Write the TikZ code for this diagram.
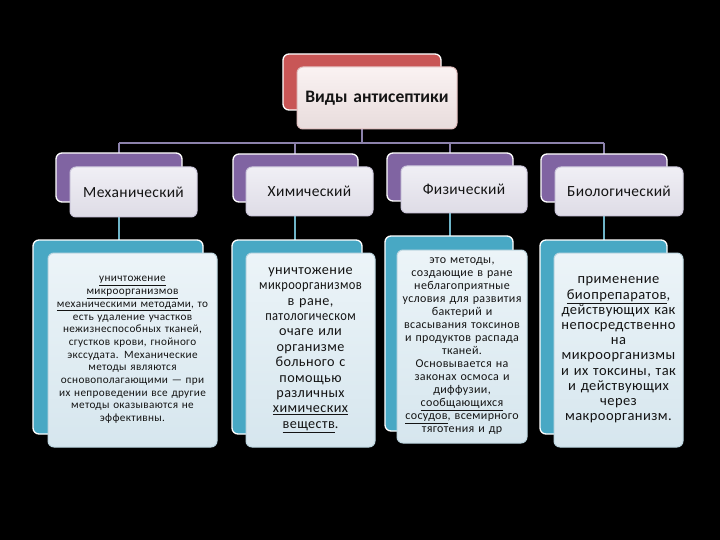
\documentclass[tikz,border=0pt]{standalone}
\usepackage{fontspec}
\setmainfont{Carlito}
\usetikzlibrary{shadings,backgrounds}
\definecolor{redback}{RGB}{200,86,86}
\definecolor{purpback}{RGB}{128,100,162}
\definecolor{tealback}{RGB}{72,168,196}
\definecolor{barcol}{RGB}{140,130,172}
\definecolor{lowcol}{RGB}{110,180,200}
\definecolor{txt}{RGB}{20,20,20}
\tikzset{
  backbox/.style={draw=white, line width=1.3pt, rounded corners=6pt, inner sep=0pt, outer sep=0pt, anchor=north west},
  frontbox/.style={rounded corners=6pt, inner sep=0pt, outer sep=0pt, anchor=north west, align=center, text=txt, line width=1pt},
  topfront/.style={frontbox, draw={rgb,255:red,225;green,190;blue,190}, top color={rgb,255:red,250;green,242;blue,242}, bottom color={rgb,255:red,232;green,220;blue,220}},
  midfront/.style={frontbox, draw={rgb,255:red,205;green,200;blue,220}, top color={rgb,255:red,240;green,239;blue,245}, bottom color={rgb,255:red,222;green,220;blue,230}},
  lowfront/.style={frontbox, draw={rgb,255:red,190;green,215;blue,225}, top color={rgb,255:red,236;green,244;blue,248}, bottom color={rgb,255:red,214;green,230;blue,238}},
  midfont/.style={font=\fontsize{15.5}{17}\selectfont\addfontfeature{LetterSpace=2}},
  barline/.style={draw=barcol, line width=1.3pt},
  lowline/.style={draw=lowcol, line width=1.3pt}
}
\newcommand{\squeezeline}[1]{\scalebox{0.88}[1]{#1}}
\begin{document}
\begin{tikzpicture}[x=1pt,y=-1pt]
\useasboundingbox (0,0) rectangle (720,540);

% level 1
\node[backbox, fill=redback, minimum width=158pt, minimum height=56pt] (tb) at (283,54) {};
\node[topfront, text width=160pt, minimum height=62pt, font=\fontsize{17.5}{20}\selectfont\bfseries] (t) at (297,67) {\raisebox{-3pt}{Виды антисептики}};

% level 2
\node[backbox, fill=purpback, minimum width=126pt, minimum height=49pt] (m1b) at (56,153) {};
\node[midfront, midfont, text width=127pt, minimum height=50pt] (m1) at (70,167) {Механический};
\node[backbox, fill=purpback, minimum width=125pt, minimum height=48pt] (m2b) at (233,154) {};
\node[midfront, midfont, text width=127pt, minimum height=49pt] (m2) at (246,167) {Химический};
\node[backbox, fill=purpback, minimum width=126pt, minimum height=48pt] (m3b) at (387,153) {};
\node[midfront, midfont, text width=126pt, minimum height=47pt] (m3) at (401,166) {Физический};
\node[backbox, fill=purpback, minimum width=126pt, minimum height=48pt] (m4b) at (541,154) {};
\node[midfront, midfont, text width=128pt, minimum height=49pt] (m4) at (555,167) {Биологический};

% level 3
\node[backbox, fill=tealback, minimum width=170pt, minimum height=194pt] (c1b) at (33,240) {};
\node[lowfront, text width=169pt, minimum height=194pt, font=\fontsize{11.2}{12.7}\selectfont\addfontfeature{LetterSpace=3}] (c1) at (48,253) {\underline{уничтожение}\\ \underline{микроорганизмов}\\ \underline{механическими методами}, то\\ есть удаление участков\\ нежизнеспособных тканей,\\ сгустков крови, гнойного\\ экссудата. Механические\\ методы являются\\ основополагающими — при\\ их непроведении все другие\\ методы оказываются не\\ эффективны.};
\node[backbox, fill=tealback, minimum width=130pt, minimum height=194pt] (c2b) at (232,240) {};
\node[lowfront, text width=129pt, minimum height=194pt, font=\fontsize{14.2}{15.4}\selectfont\addfontfeature{LetterSpace=3}] (c2) at (246,253) {уничтожение\\ \squeezeline{микроорганизмов}\\ в ране,\\ \squeezeline{патологическом}\\ очаге или\\ организме\\ больного с\\ помощью\\ различных\\ \underline{химических}\\ \underline{веществ}.};
\node[backbox, fill=tealback, minimum width=128pt, minimum height=195pt] (c3b) at (385,236) {};
\node[lowfront, text width=130pt, minimum height=193pt, font=\fontsize{12}{13}\selectfont\addfontfeature{LetterSpace=3}] (c3) at (397,250) {это методы,\\ создающие в ране\\ неблагоприятные\\ условия для развития\\ бактерий и\\ всасывания токсинов\\ и продуктов распада\\ тканей.\\ Основывается на\\ законах осмоса и\\ диффузии,\\ \underline{сообщающихся}\\ \underline{сосудов}, всемирного\\ тяготения и др};
\node[backbox, fill=tealback, minimum width=127pt, minimum height=194pt] (c4b) at (540,240) {};
\node[lowfront, text width=129pt, minimum height=194pt, font=\fontsize{14.5}{15.2}\selectfont\addfontfeature{LetterSpace=3}] (c4) at (554,253) {применение\\ \underline{биопрепаратов},\\ действующих как\\ непосредственно\\ на\\ микроорганизмы\\ и их токсины, так\\ и действующих\\ через\\ макроорганизм.};

% connectors
\coordinate (j0) at (362,143);
\coordinate (j1) at (119,143);
\coordinate (j2) at (295,143);
\coordinate (j3) at (450,143);
\coordinate (j4) at (604,143);
\begin{scope}[on background layer]
\fill[black] (0,0) rectangle (720,540);
\draw[barline] (j0 |- t.south) -- (j0);
\draw[barline] (j1) -- (j4);
\draw[barline] (j1) -- (j1 |- m1.south);
\draw[barline] (j2) -- (j2 |- m2.south);
\draw[barline] (j3) -- (j3 |- m3.south);
\draw[barline] (j4) -- (j4 |- m4.south);
\draw[lowline] (j1 |- m1.south) -- (j1 |- c1b.north);
\draw[lowline] (j2 |- m2.south) -- (j2 |- c2b.north);
\draw[lowline] (j3 |- m3.south) -- (j3 |- c3b.north);
\draw[lowline] (j4 |- m4.south) -- (j4 |- c4b.north);
\end{scope}
\end{tikzpicture}
\end{document}
